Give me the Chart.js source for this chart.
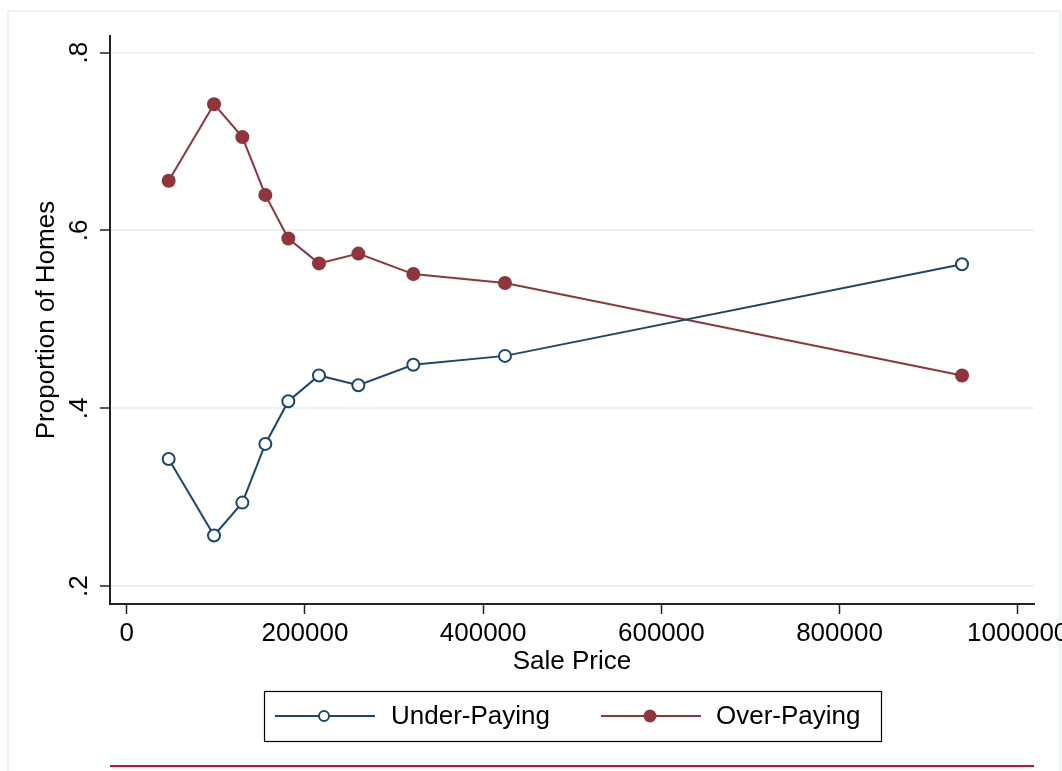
<!DOCTYPE html>
<html>
<head>
<meta charset="utf-8">
<script src="https://cdn.jsdelivr.net/npm/chart.js@4"></script>
<style>
  html, body { margin: 0; padding: 0; background: #fff; }
  #wrap { width: 1062px; height: 771px; }
</style>
</head>
<body>
<div id="wrap"><canvas id="priceChart" width="1062" height="771"></canvas></div>
<script>
// data
const salePrice = [47000, 97900, 129700, 155500, 181300, 215700, 259900, 321600, 424500, 937500];
const underPaying = [0.343, 0.257, 0.294, 0.360, 0.408, 0.437, 0.426, 0.449, 0.459, 0.562];
const overPaying = [0.656, 0.742, 0.705, 0.640, 0.591, 0.563, 0.574, 0.551, 0.541, 0.437];
const seriesNames = ['Under-Paying', 'Over-Paying'];
const xTicks = [0, 200000, 400000, 600000, 800000, 1000000];
const yTicks = [0.2, 0.4, 0.6, 0.8];
const yTickLabels = ['.2', '.4', '.6', '.8'];

const blue = '#1a476f';
const red = '#90353b';
const FONT = '"Liberation Sans", Arial, Helvetica, sans-serif';

function toPoints(values) {
    return salePrice.map((x, i) => ({ x: x, y: values[i] }));
}

// frame, bottom rule and boxed legend
const decorations = {
    id: 'decorations',
    beforeDraw(chart) {
        const ctx = chart.ctx;
        ctx.save();
        ctx.strokeStyle = '#eaf2f3';
        ctx.lineWidth = 2;
        ctx.strokeRect(8, 11, 1052, 770);
        ctx.restore();
    },
    afterDraw(chart) {
        const ctx = chart.ctx;
        ctx.save();
        // legend box
        ctx.strokeStyle = '#000';
        ctx.lineWidth = 1.2;
        ctx.strokeRect(264.5, 691.5, 617, 50);

        const items = [
            { x: 275, color: blue, hollow: true, textX: 391 },
            { x: 601, color: red, hollow: false, textX: 716 }
        ];
        items.forEach((it, i) => {
            const cy = 716;
            ctx.strokeStyle = it.color;
            ctx.lineWidth = 2;
            ctx.beginPath();
            ctx.moveTo(it.x, cy);
            ctx.lineTo(it.x + 100, cy);
            ctx.stroke();
            ctx.beginPath();
            ctx.arc(it.x + 49, cy, it.hollow ? 5 : 6.5, 0, Math.PI * 2);
            if (it.hollow) {
                ctx.fillStyle = '#fff';
                ctx.fill();
                ctx.stroke();
            } else {
                ctx.fillStyle = it.color;
                ctx.fill();
            }
            ctx.fillStyle = '#000';
            ctx.font = '26px ' + FONT;
            ctx.textBaseline = 'middle';
            ctx.textAlign = 'left';
            ctx.fillText(chart.data.datasets[i].label, it.textX, cy + 1);
        });

        // red rule at the bottom
        ctx.strokeStyle = '#c8103c';
        ctx.lineWidth = 2;
        ctx.beginPath();
        ctx.moveTo(110, 766);
        ctx.lineTo(1034, 766);
        ctx.stroke();
        ctx.restore();
    }
};

const ctx = document.getElementById('priceChart').getContext('2d');
new Chart(ctx, {
    type: 'scatter',
    data: {
        datasets: [{
            label: seriesNames[0],
            data: toPoints(underPaying),
            showLine: true,
            borderColor: blue,
            borderWidth: 2,
            pointRadius: 6,
            pointBorderWidth: 2,
            pointBackgroundColor: '#fff',
            pointBorderColor: blue
        }, {
            label: seriesNames[1],
            data: toPoints(overPaying),
            showLine: true,
            borderColor: red,
            borderWidth: 2,
            pointRadius: 7,
            pointBorderWidth: 0,
            pointBackgroundColor: red,
            pointBorderColor: red
        }]
    },
    options: {
        responsive: false,
        animation: false,
        layout: { padding: { top: 36, right: 28, left: 0, bottom: 0 } },
        plugins: {
            legend: { display: false },
            tooltip: { enabled: false }
        },
        scales: {
            x: {
                type: 'linear',
                min: -18860,
                max: 1018300,
                afterBuildTicks: scale => { scale.ticks = xTicks.map(v => ({ value: v })); },
                afterFit: scale => {
                    scale.height = 167;
                    scale.paddingLeft = 0;
                    scale.paddingRight = 0;
                },
                border: { color: '#222', width: 2 },
                grid: {
                    drawOnChartArea: false,
                    tickColor: '#222',
                    tickWidth: 1.5,
                    tickLength: 10
                },
                ticks: {
                    color: '#000',
                    font: { family: FONT, size: 26 },
                    padding: 4,
                    maxRotation: 0,
                    autoSkip: false,
                    callback: v => String(v)
                },
                title: {
                    display: true,
                    text: 'Sale Price',
                    color: '#000',
                    font: { family: FONT, size: 26 },
                    padding: { top: 0, bottom: 94 }
                }
            },
            y: {
                min: 0.18,
                max: 0.8187,
                afterBuildTicks: scale => { scale.ticks = yTicks.map(v => ({ value: v })); },
                afterFit: scale => {
                    scale.width = 110;
                    scale.paddingTop = 0;
                    scale.paddingBottom = 0;
                },
                border: { color: '#222', width: 2 },
                grid: {
                    color: '#eaf2f3',
                    lineWidth: 2,
                    tickColor: '#222',
                    tickWidth: 1.5,
                    tickLength: 10
                },
                ticks: {
                    color: '#000',
                    font: { family: FONT, size: 26 },
                    padding: 9,
                    minRotation: 90,
                    maxRotation: 90,
                    crossAlign: 'center',
                    autoSkip: false,
                    callback: (v, i) => yTickLabels[i]
                },
                title: {
                    display: true,
                    text: 'Proportion of Homes',
                    color: '#000',
                    font: { family: FONT, size: 26 },
                    padding: { top: 31, bottom: 0 }
                }
            }
        }
    },
    plugins: [decorations]
});
</script>
</body>
</html>
